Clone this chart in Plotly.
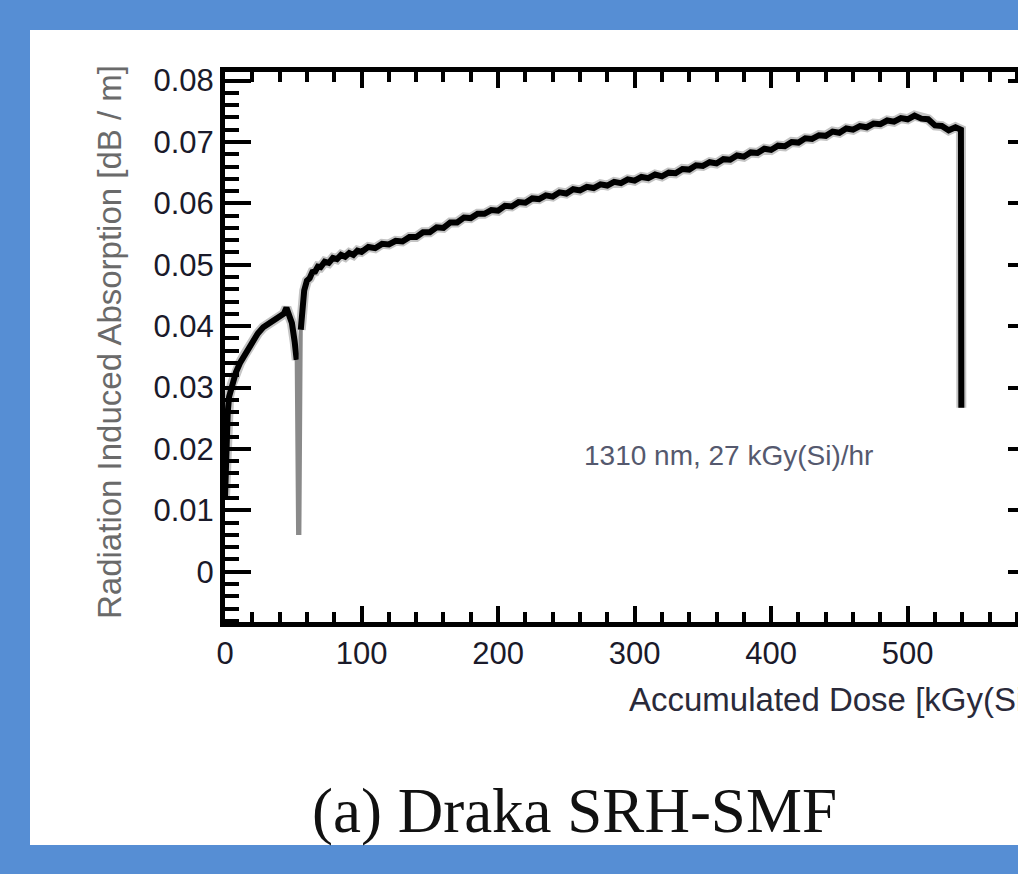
import plotly.graph_objects as go

# ---- data ----
dose_rise = [0, 1, 2, 3, 5, 8, 11, 14, 17, 20, 24, 28, 32, 36, 40, 43, 45, 47, 49, 51, 52.5]
absn_rise = [0.0120, 0.0210, 0.0260, 0.0285, 0.0305, 0.0325, 0.0340, 0.0352, 0.0365, 0.0376,
             0.0388, 0.0398, 0.0404, 0.0410, 0.0414, 0.0420, 0.0430, 0.0418, 0.0405, 0.0375, 0.0345]

dose_dip = [52.5, 53.5, 54.5, 55.5]
absn_dip = [0.0345, 0.0063, 0.0063, 0.0394]

dose_main = [55.5, 56.5, 58, 60, 62, 64, 66, 68, 70, 73, 76, 79, 82, 85, 88, 91, 94, 97,
             100, 105, 110, 115, 120, 125, 130, 135, 140, 145, 150, 155, 160, 165, 170, 175,
             180, 185, 190, 195, 200, 205, 210, 215, 220, 225, 230, 235, 240, 245, 250, 255,
             260, 265, 270, 275, 280, 285, 290, 295, 300, 305, 310, 315, 320, 325, 330, 335,
             340, 345, 350, 355, 360, 365, 370, 375, 380, 385, 390, 395, 400, 405, 410, 415,
             420, 425, 430, 435, 440, 445, 450, 455, 460, 465, 470, 475, 480, 485, 490, 495,
             500, 505, 510, 515, 520, 525, 530, 535, 539, 539.3]
absn_main = [0.0394, 0.0435, 0.0458, 0.0474, 0.0478, 0.0488, 0.0489, 0.0497, 0.0496, 0.0505,
             0.0503, 0.0511, 0.0509, 0.0516, 0.0513, 0.0519, 0.0516, 0.0523,
             0.0521, 0.0529, 0.0527, 0.0534, 0.0533, 0.0539, 0.0538, 0.0545, 0.0545, 0.0553,
             0.0553, 0.0561, 0.0560, 0.0569, 0.0569, 0.0577, 0.0576, 0.0583, 0.0583, 0.0589,
             0.0588, 0.0596, 0.0595, 0.0602, 0.0601, 0.0608, 0.0607, 0.0613, 0.0611, 0.0618,
             0.0616, 0.0623, 0.0621, 0.0627, 0.0625, 0.0631, 0.0629, 0.0635, 0.0633, 0.0639,
             0.0637, 0.0643, 0.0641, 0.0647, 0.0644, 0.0650, 0.0649, 0.0656, 0.0655, 0.0662,
             0.0661, 0.0667, 0.0665, 0.0672, 0.0671, 0.0678, 0.0676, 0.0683, 0.0682, 0.0689,
             0.0687, 0.0694, 0.0693, 0.0700, 0.0699, 0.0706, 0.0705, 0.0711, 0.0710, 0.0717,
             0.0715, 0.0722, 0.0720, 0.0726, 0.0724, 0.0730, 0.0729, 0.0735, 0.0733, 0.0739,
             0.0737, 0.0743, 0.0738, 0.0737, 0.0727, 0.0726, 0.0719, 0.0724, 0.0720, 0.0267]

x_ticks = [0, 100, 200, 300, 400, 500]
y_ticks = [0, 0.01, 0.02, 0.03, 0.04, 0.05, 0.06, 0.07, 0.08]
y_tick_labels = ["0", "0.01", "0.02", "0.03", "0.04", "0.05", "0.06", "0.07", "0.08"]

x_title = "Accumulated Dose [kGy(Si)]"
y_title = "Radiation Induced Absorption [dB / m]"
condition_label = "1310 nm, 27 kGy(Si)/hr"
caption = "(a) Draka SRH-SMF"

X_RANGE = [0, 580.8]
Y_RANGE = [-0.0082, 0.0814]

SANS = "Liberation Sans, Arial, sans-serif"
SERIF = "Liberation Serif, Times New Roman, serif"
BLUE = "#568ED4"

fig = go.Figure()
# soft grey halo under the noisy black trace
for xs, ys in ((dose_rise, absn_rise), (dose_main, absn_main)):
    fig.add_trace(go.Scatter(x=xs, y=ys, mode="lines",
                             line=dict(color="#c4c4c4", width=10), showlegend=False, hoverinfo="skip"))
fig.add_trace(go.Scatter(x=dose_rise, y=absn_rise, mode="lines",
                         line=dict(color="black", width=6), showlegend=False, hoverinfo="skip"))
fig.add_trace(go.Scatter(x=dose_dip, y=absn_dip, mode="lines",
                         line=dict(color="#8a8a8a", width=4), showlegend=False, hoverinfo="skip"))
fig.add_trace(go.Scatter(x=dose_main, y=absn_main, mode="lines",
                         line=dict(color="black", width=6), showlegend=False, hoverinfo="skip"))
# right-hand tick marks (same scale as the left axis)
fig.add_trace(go.Scatter(x=[None], y=[None], yaxis="y2", mode="lines",
                         showlegend=False, hoverinfo="skip"))

fig.update_layout(
    width=1018, height=874,
    margin=dict(l=225, r=0, t=72, b=252),
    paper_bgcolor=BLUE,
    plot_bgcolor="white",
    showlegend=False,
    xaxis=dict(
        range=X_RANGE, tickmode="array", tickvals=x_ticks, ticktext=[str(v) for v in x_ticks],
        ticks="inside", ticklen=16, tickwidth=4, tickcolor="black",
        minor=dict(dtick=20, tick0=0, ticks="inside", ticklen=10, tickwidth=4, tickcolor="black"),
        showline=True, linecolor="black", linewidth=5, mirror="ticks",
        showgrid=False, zeroline=False,
        tickfont=dict(family=SANS, size=31, color="#1a1a2a"),
    ),
    yaxis=dict(
        range=Y_RANGE, tickmode="array", tickvals=y_ticks, ticktext=y_tick_labels,
        ticks="inside", ticklen=26, tickwidth=4, tickcolor="black",
        minor=dict(dtick=0.002, tick0=0, ticks="inside", ticklen=14, tickwidth=4, tickcolor="black"),
        showline=True, linecolor="black", linewidth=5, mirror=False,
        showgrid=False, zeroline=False,
        tickfont=dict(family=SANS, size=31, color="#1a1a2a"),
    ),
    yaxis2=dict(
        range=Y_RANGE, overlaying="y", side="right", anchor="x",
        tickmode="array", tickvals=y_ticks, showticklabels=False,
        ticks="inside", ticklen=10, tickwidth=4, tickcolor="black",
        showline=False, showgrid=False, zeroline=False,
    ),
    shapes=[dict(type="rect", xref="paper", yref="paper",
                 x0=(30 - 225) / 793, x1=1.05, y0=(622 - 845) / 550, y1=(622 - 30) / 550,
                 fillcolor="white", line=dict(width=0), layer="below")],
    annotations=[
        dict(text=x_title, xref="paper", yref="paper", x=(627 - 225) / 793, y=(622 - 699) / 550,
             xanchor="left", yanchor="middle", showarrow=False,
             font=dict(family=SANS, size=33, color="#2a2a3a")),
        dict(text=y_title, xref="paper", yref="paper", x=(109 - 225) / 793, y=(622 - 342) / 550,
             xanchor="center", yanchor="middle", textangle=-90, showarrow=False,
             font=dict(family=SANS, size=33, color="#6a6a6a")),
        dict(text=condition_label, xref="x", yref="y", x=369, y=0.019,
             xanchor="center", yanchor="middle", showarrow=False,
             font=dict(family=SANS, size=28, color="#55596e")),
        dict(text=caption, xref="paper", yref="paper", x=(574 - 225) / 793, y=(622 - 811) / 550,
             xanchor="center", yanchor="middle", showarrow=False,
             font=dict(family=SERIF, size=63, color="#111111")),
    ],
)

fig.write_html("out.html", config={"displayModeBar": False},
               post_script="document.body.style.margin='0';document.body.style.overflow='hidden';")
